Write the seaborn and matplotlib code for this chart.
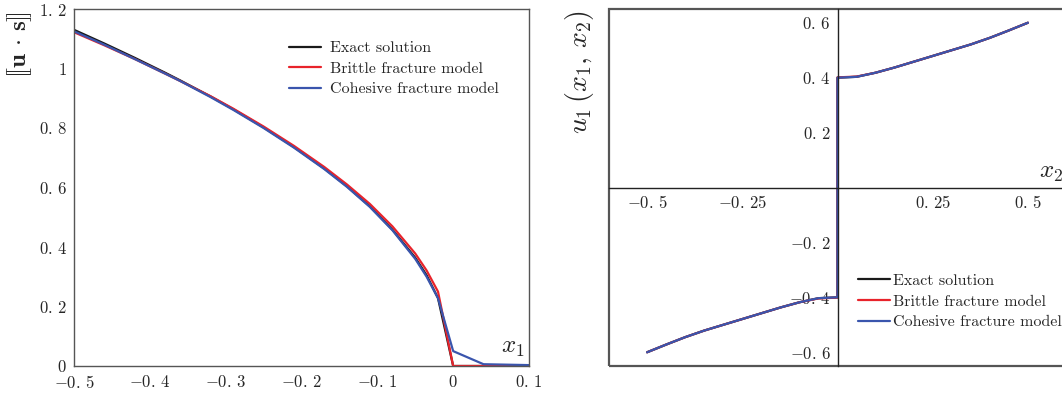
import numpy as np
import pandas as pd
import matplotlib
matplotlib.use("Agg")
import matplotlib.pyplot as plt
from matplotlib.patches import Rectangle
import seaborn as sns

# left panel: opening displacement along the crack line
x1 = [-0.5, -0.46, -0.42, -0.38, -0.36, -0.32, -0.29, -0.25, -0.21, -0.17,
      -0.14, -0.11, -0.08, -0.05, -0.035, -0.02, 0.0, 0.04, 0.1]
jump_exact = [1.130, 1.084, 1.036, 0.986, 0.960, 0.906, 0.863, 0.802, 0.736, 0.664,
              0.604, 0.537, 0.458, 0.364, 0.305, 0.228, 0.0, 0.0, 0.0]
jump_brittle = [1.122, 1.078, 1.032, 0.983, 0.958, 0.907, 0.865, 0.805, 0.740, 0.669,
                0.610, 0.545, 0.469, 0.378, 0.321, 0.250, 0.0, 0.0, 0.0]
jump_cohesive = [1.125, 1.080, 1.032, 0.983, 0.958, 0.904, 0.861, 0.800, 0.734, 0.662,
                 0.602, 0.535, 0.456, 0.360, 0.300, 0.228, 0.050, 0.006, 0.003]

# right panel: u1 across the crack
x2 = [-0.5, -0.45, -0.4, -0.35, -0.3, -0.25, -0.2, -0.15, -0.1, -0.05, 0.0,
      0.0, 0.05, 0.1, 0.15, 0.2, 0.25, 0.3, 0.35, 0.4, 0.45, 0.5]
u1_exact = [-0.600, -0.572, -0.545, -0.521, -0.500, -0.479, -0.458, -0.437, -0.418, -0.403, -0.400,
            0.400, 0.403, 0.418, 0.437, 0.458, 0.479, 0.500, 0.521, 0.545, 0.572, 0.600]
u1_brittle = [-0.600, -0.572, -0.545, -0.521, -0.500, -0.479, -0.458, -0.437, -0.418, -0.404, -0.401,
              0.401, 0.404, 0.418, 0.437, 0.458, 0.479, 0.500, 0.521, 0.545, 0.572, 0.600]
u1_cohesive = [-0.600, -0.572, -0.545, -0.521, -0.500, -0.479, -0.458, -0.437, -0.418, -0.403, -0.400,
               0.400, 0.403, 0.418, 0.437, 0.458, 0.479, 0.500, 0.521, 0.545, 0.572, 0.600]

models = ["Exact solution", "Brittle fracture model", "Cohesive fracture model"]
colors = ["#1a1a1a", "#e8232b", "#3a55ad"]

left_x_ticks = [-0.5, -0.4, -0.3, -0.2, -0.1, 0.0, 0.1]
left_x_labels = [r"$-0.\,5$", r"$-0.\,4$", r"$-0.\,3$", r"$-0.\,2$", r"$-0.\,1$", r"$0$", r"$0.\,1$"]
left_y_ticks = [0, 0.2, 0.4, 0.6, 0.8, 1.0, 1.2]
left_y_labels = [r"$0$", r"$0.\,2$", r"$0.\,4$", r"$0.\,6$", r"$0.\,8$", r"$1$", r"$1.\,2$"]
right_x_ticks = [-0.5, -0.25, 0.25, 0.5]
right_x_labels = [r"$-0.\,5$", r"$-0.\,25$", r"$0.\,25$", r"$0.\,5$"]
right_y_ticks = [-0.6, -0.4, -0.2, 0.2, 0.4, 0.6]
right_y_labels = [r"$-0.\,6$", r"$-0.\,4$", r"$-0.\,2$", r"$0.\,2$", r"$0.\,4$", r"$0.\,6$"]

sns.set_style("white")
plt.rcParams["font.family"] = ["cmr10", "DejaVu Serif"]
plt.rcParams["mathtext.fontset"] = "cm"
plt.rcParams["axes.formatter.use_mathtext"] = True
plt.rcParams["xtick.direction"] = "in"
plt.rcParams["ytick.direction"] = "in"

left_df = pd.DataFrame({
    "x": x1 * 3,
    "y": jump_exact + jump_brittle + jump_cohesive,
    "model": [m for m in models for _ in x1],
})
right_df = pd.DataFrame({
    "x": x2 * 3,
    "y": u1_exact + u1_brittle + u1_cohesive,
    "model": [m for m in models for _ in x2],
})

W, H = 1062, 401
fig = plt.figure(figsize=(W / 100, H / 100), dpi=100)
ax1 = fig.add_axes([74 / W, 35 / H, 455 / W, 357 / H])
ax2 = fig.add_axes([609 / W, 35 / H, 457 / W, 357 / H])

spine_col = "#555555"

# ---- left panel
sns.lineplot(data=left_df, x="x", y="y", hue="model", hue_order=models,
             palette=colors, estimator=None, sort=False, linewidth=1.6, ax=ax1)
ax1.set_xlim(-0.5, 0.1)
ax1.set_ylim(0, 1.2)
ax1.set_xticks(left_x_ticks, left_x_labels)
ax1.set_yticks(left_y_ticks, left_y_labels)
ax1.tick_params(labelsize=12, length=4, color=spine_col)
ax1.tick_params(axis="x", pad=6)
ax1.tick_params(axis="y", pad=5)
for s in ax1.spines.values():
    s.set_color(spine_col)
    s.set_linewidth(1.0)
ax1.set_xlabel("")
ax1.set_ylabel("")
ax1.text(0.99, 0.02, r"$x_1$", transform=ax1.transAxes, fontsize=18,
         ha="right", va="bottom")
fig.text(20 / W, 1 - 45 / H, r"$[\![\mathbf{u}\,\cdot\,\mathbf{s}]\!]$", rotation=90,
         fontsize=18, ha="center", va="center")
ax1.legend(frameon=False, loc="upper left", bbox_to_anchor=(0.472, 0.91),
           fontsize=11.5, handlelength=2.0, handletextpad=0.6, labelspacing=0.4,
           borderpad=0, borderaxespad=0)

# ---- right panel
sns.lineplot(data=right_df, x="x", y="y", hue="model", hue_order=models,
             palette=colors, estimator=None, sort=False, linewidth=1.6, ax=ax2)
ax2.set_xlim(-0.6, 0.6)
ax2.set_ylim(-0.65, 0.65)
ax2.spines["left"].set_position(("data", 0))
ax2.spines["bottom"].set_position(("data", 0))
ax2.spines["top"].set_visible(False)
ax2.spines["right"].set_visible(False)
for s in ["left", "bottom"]:
    ax2.spines[s].set_color("#222222")
    ax2.spines[s].set_linewidth(1.0)
ax2.add_patch(Rectangle((0, 0), 1, 1, transform=ax2.transAxes, fill=False,
                        edgecolor=spine_col, linewidth=1.6, clip_on=False))
ax2.set_xticks(right_x_ticks, right_x_labels)
ax2.set_yticks(right_y_ticks, right_y_labels)
ax2.tick_params(labelsize=12, length=4, color=spine_col, pad=5)
ax2.set_xlabel("")
ax2.set_ylabel("")
ax2.text(0.968, 0.51, r"$x_2$", transform=ax2.transAxes, fontsize=18,
         ha="center", va="bottom")
fig.text(580 / W, 1 - 72 / H, r"$u_1\,(x_1,\,x_2)$", rotation=90,
         fontsize=20, ha="center", va="center")
ax2.legend(frameon=False, loc="upper left", bbox_to_anchor=(0.545, 0.258),
           fontsize=11.5, handlelength=2.0, handletextpad=0.2, labelspacing=0.4,
           borderpad=0, borderaxespad=0)

fig.savefig("out.png", dpi=100)
